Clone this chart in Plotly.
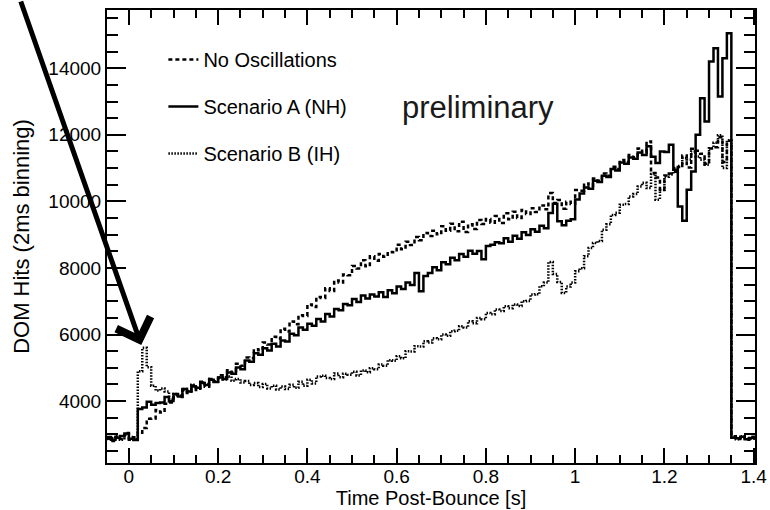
import plotly.graph_objects as go

# 10 ms bins starting at -0.05 s (DOM hits per bin)
T_START = -0.05
BIN = 0.01

no_osc = [
    2870, 2800, 2930, 2860, 3040,
    2840, 2910, 3050, 3190, 3470, 3480, 3730, 3660, 3920, 3960,
    4180, 4120, 4330, 4240, 4470, 4330, 4580, 4430, 4660, 4590,
    4780, 4720, 4930, 4860, 5120, 5060, 5310, 5290, 5560, 5530,
    5760, 5700, 5930, 5880, 6170, 6090, 6390, 6310, 6580, 6560,
    6900, 6830, 7130, 7100, 7390, 7310, 7620, 7560, 7800, 7780,
    8060, 7980, 8230, 8050, 8350, 8220, 8420, 8340, 8480, 8470,
    8700, 8560, 8790, 8690, 8930, 8830, 9050, 8960, 9120, 9010,
    9250, 9120, 9330, 9100, 9390, 9080, 9310, 9170, 9440, 9320,
    9470, 9360, 9560, 9350, 9640, 9460, 9690, 9500, 9740, 9620,
    9790, 9680, 9880, 9760, 10250, 9950, 10040, 9780, 9990, 9920,
    10340, 10320, 10540, 10470, 10690, 10620, 10840, 10770, 11040, 10970,
    11240, 11170, 11390, 11320, 11590, 11470, 11800, 10850, 10720, 10350,
    10780, 10840, 10890, 11030, 11380, 11020, 11580, 11520, 11430, 11130,
    11590, 11630, 11930, 11180, 11820, 2940, 2860, 2920, 2840, 2930,
    2880,
]

scen_a = [
    2920, 2840, 2900, 2950, 3030,
    2870, 2830, 3760, 3810, 3980, 3890, 3940, 3960, 4120, 4000,
    4210, 4140, 4360, 4290, 4440, 4400, 4540, 4480, 4640, 4570,
    4710, 4660, 4860, 4820, 5010, 4960, 5220, 5180, 5440, 5390,
    5590, 5520, 5720, 5640, 5820, 5790, 6020, 5980, 6210, 6140,
    6320, 6260, 6470, 6390, 6620, 6540, 6770, 6730, 6920, 6880,
    7070, 6980, 7170, 7080, 7200, 7140, 7270, 7130, 7330, 7240,
    7440, 7370, 7560, 7490, 7850, 7300, 7760, 7850, 8020, 7930,
    8170, 8110, 8310, 8230, 8420, 8340, 8520, 8430, 8510, 8260,
    8660, 8700, 8770, 8740, 8890, 8790, 8970, 8880, 9070, 8990,
    9160, 9090, 9270, 9190, 9650, 9930, 9400, 9280, 9420, 9460,
    10060, 10240, 10420, 10380, 10620, 10580, 10770, 10730, 10970, 10930,
    11170, 11130, 11320, 11280, 11470, 11390, 11660, 11340, 11150, 11500,
    11480, 11700, 10950, 9850, 9420, 10350, 10900, 12000, 13100, 12400,
    14200, 14600, 13150, 14300, 15050, 2900, 2880, 2930, 2850, 2890,
    2920,
]

scen_b = [
    2860, 2880, 2940, 2840, 3000,
    2920, 2850, 4900, 5600, 5020, 4460, 4320, 4380, 4290, 4060,
    4210, 4170, 4360, 4310, 4490, 4400, 4560, 4510, 4660, 4580,
    4720, 4650, 4740, 4610, 4660, 4560, 4600, 4480, 4540, 4420,
    4510, 4380, 4460, 4350, 4440, 4360, 4490, 4400, 4580, 4460,
    4640, 4530, 4740, 4760, 4690, 4660, 4830, 4720, 4820, 4790,
    4880, 4770, 4920, 4870, 4990, 4960, 5100, 5060, 5230, 5210,
    5350, 5290, 5500, 5490, 5650, 5640, 5800, 5760, 5890, 5860,
    6000, 5960, 6100, 6110, 6250, 6210, 6400, 6340, 6500, 6460,
    6650, 6610, 6750, 6710, 6850, 6790, 6900, 6860, 7000, 7010,
    7200, 7210, 7450, 7560, 8180, 7820, 7580, 7250, 7440, 7560,
    7900, 7990, 8350, 8600, 8750, 8810, 9150, 9310, 9590, 9660,
    9900, 9920, 10150, 10220, 10450, 10560, 10400, 10820, 10050, 10340,
    10740, 10810, 11000, 11060, 11300, 11260, 11500, 11350, 11250, 11100,
    11600, 11760, 11990, 11000, 11840, 2910, 2850, 2940, 2880, 2870,
    2900,
]

t = [round(T_START + BIN * i, 3) for i in range(len(no_osc))]

series = [
    ("No Oscillations", no_osc, "4px,3px"),
    ("Scenario A (NH)", scen_a, "solid"),
    ("Scenario B (IH)", scen_b, "1.5px,1.5px"),
]

FONT = "Liberation Sans, Arial, sans-serif"

fig = go.Figure()
for name, values, dash in series:
    fig.add_trace(
        go.Scatter(
            x=t,
            y=values,
            mode="lines",
            name=name,
            legendgroup=name,
            line=dict(color="black", width=2.5, dash=dash, shape="hv"),
        )
    )

# arrow pointing at the neutronization spike of scenario B
i_peak = max(range(20), key=lambda i: scen_b[i])
fig.add_annotation(
    x=t[i_peak],
    y=scen_b[i_peak],
    ax=-122,
    ay=-350,
    showarrow=True,
    arrowhead=4,
    arrowsize=1.4,
    arrowwidth=5,
    arrowcolor="black",
    standoff=3,
    text="",
)

fig.add_annotation(
    x=0.573,
    y=0.828,
    xref="paper",
    yref="paper",
    text="preliminary",
    showarrow=False,
    font=dict(family=FONT, size=31, color="#1a1a1a"),
)

axis_common = dict(
    showline=True,
    linecolor="black",
    linewidth=2,
    mirror="allticks",
    ticks="inside",
    tickcolor="black",
    tickwidth=2,
    showgrid=False,
    zeroline=False,
    automargin=False,
    tickfont=dict(family=FONT, size=19, color="black"),
)

fig.update_xaxes(
    **axis_common,
    range=[-0.049, 1.403],
    dtick=0.2,
    tick0=0,
    ticklen=15,
    ticklabelstandoff=-5,
    minor=dict(ticks="inside", dtick=0.05, tick0=0, ticklen=8, tickcolor="black", tickwidth=2, showgrid=False),
    title=dict(text="Time Post-Bounce [s]", font=dict(family=FONT, size=20, color="black"), standoff=0),
)

fig.update_yaxes(
    **axis_common,
    range=[2140, 15750],
    dtick=2000,
    tick0=0,
    tickformat="d",
    ticklen=19,
    minor=dict(ticks="inside", dtick=500, tick0=0, ticklen=11, tickcolor="black", tickwidth=2, showgrid=False),
    title=dict(text="DOM Hits (2ms binning)", font=dict(family=FONT, size=22, color="black"), standoff=13),
)

fig.update_layout(
    width=770,
    height=510,
    margin=dict(l=107, r=15, t=10, b=47),
    plot_bgcolor="white",
    paper_bgcolor="white",
    showlegend=True,
    legend=dict(
        x=0.087,
        y=0.934,
        xanchor="left",
        yanchor="top",
        bgcolor="rgba(0,0,0,0)",
        font=dict(family=FONT, size=20, color="black"),
        traceorder="grouped",
        tracegroupgap=18,
    ),
)

# drop the default 8px page margin so the figure sits at the window's corner
fig.write_html(
    "out.html",
    config={"displayModeBar": False},
    post_script="document.body.style.margin = '0';",
)
